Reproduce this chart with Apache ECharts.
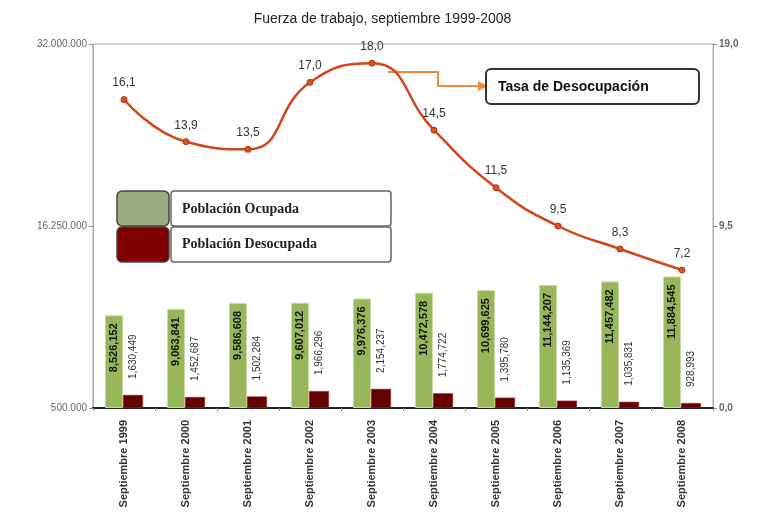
<!DOCTYPE html>
<html>
<head>
<meta charset="utf-8">
<script src="https://cdn.jsdelivr.net/npm/echarts@6/dist/echarts.min.js"></script>
<style>html,body{margin:0;padding:0;background:#fff}#c{width:765px;height:524px}</style>
</head>
<body>
<div id="c"></div>
<script>
var categories = ['Septiembre 1999','Septiembre 2000','Septiembre 2001','Septiembre 2002','Septiembre 2003','Septiembre 2004','Septiembre 2005','Septiembre 2006','Septiembre 2007','Septiembre 2008'];
var ocupada = [8526152, 9063841, 9586608, 9607012, 9976376, 10472578, 10699625, 11144207, 11457482, 11884545];
var desocupada = [1630449, 1452687, 1502284, 1966296, 2154237, 1774722, 1395780, 1135369, 1035831, 928993];
var tasa = [16.1, 13.9, 13.5, 17.0, 18.0, 14.5, 11.5, 9.5, 8.3, 7.2];
var leftTicks = [500000, 16250000, 32000000];
var rightTicks = [0, 9.5, 19];

var base = leftTicks[0];
function fmtInt(v){ return String(Math.round(v)).replace(/\B(?=(\d{3})+(?!\d))/g, ','); }
function fmtDot(v){ return String(Math.round(v)).replace(/\B(?=(\d{3})+(?!\d))/g, '.'); }
function fmtDec(v){ return v.toFixed(1).replace('.', ','); }

var chart = echarts.init(document.getElementById('c'));
chart.setOption({
  animation: false,
  title: {
    text: 'Fuerza de trabajo, septiembre 1999-2008',
    left: 'center', top: 7,
    textStyle: {fontFamily: 'Liberation Sans, Arial', fontSize: 14, fontWeight: 'normal', color: '#222'}
  },
  grid: {left: 93, right: 52, top: 44, bottom: 116, show: true, borderColor: '#aaa', borderWidth: 1},
  xAxis: {
    type: 'category', data: categories,
    axisLine: {lineStyle: {color: '#222', width: 2}},
    axisTick: {show: true, length: 3, lineStyle: {color: '#888'}},
    axisLabel: {rotate: 90, margin: 12, color: '#333', fontSize: 11, fontWeight: 'bold', fontFamily: 'Liberation Sans Narrow, Liberation Sans, Arial'}
  },
  yAxis: [{
    type: 'value', min: 0, max: leftTicks[2] - base, interval: leftTicks[1] - base,
    axisLine: {show: true, lineStyle: {color: '#aaa'}},
    axisTick: {show: true, length: 4, lineStyle: {color: '#888'}},
    splitLine: {show: false},
    axisLabel: {color: '#666', fontSize: 10, fontFamily: 'Liberation Sans, Arial', margin: 6, formatter: function(v){ return fmtDot(v + base); }}
  }, {
    type: 'value', min: rightTicks[0], max: rightTicks[2], interval: rightTicks[1],
    axisLine: {show: true, lineStyle: {color: '#aaa'}},
    axisTick: {show: true, length: 4, lineStyle: {color: '#888'}},
    splitLine: {show: false},
    axisLabel: {color: '#666', fontSize: 10, fontWeight: 'bold', fontFamily: 'Liberation Sans, Arial', margin: 6, formatter: function(v){ return fmtDec(v); }}
  }],
  series: [{
    name: 'Población Ocupada', type: 'bar', yAxisIndex: 0,
    data: ocupada.map(function(v){ return v - base; }),
    barWidth: 18, barGap: '0%',
    itemStyle: {color: '#98B75A', borderColor: '#C9DBA0', borderWidth: 1},
    label: {show: true, position: 'insideTop', rotate: 90, align: 'right', verticalAlign: 'middle', distance: 8,
      color: '#111', fontSize: 11, fontWeight: 'bold', fontFamily: 'Liberation Sans Narrow, Liberation Sans, Arial',
      formatter: function(p){ return fmtInt(ocupada[p.dataIndex]); }}
  }, {
    name: 'Población Desocupada', type: 'bar', yAxisIndex: 0,
    data: desocupada.map(function(v){ return v - base; }),
    barWidth: 20,
    itemStyle: {color: '#650000', borderColor: '#A33', borderWidth: 0.5},
    label: {show: true, position: 'top', rotate: 90, align: 'left', verticalAlign: 'middle', distance: 16,
      color: '#333', fontSize: 10, fontFamily: 'Liberation Sans Narrow, Liberation Sans, Arial',
      formatter: function(p){ return fmtInt(desocupada[p.dataIndex]); }}
  }, {
    name: 'Tasa de Desocupación', type: 'line', yAxisIndex: 1, data: tasa,
    smooth: 0.5, symbol: 'circle', symbolSize: 6,
    lineStyle: {color: '#D2461A', width: 2.5},
    itemStyle: {color: '#E0501A', borderColor: '#B03010', borderWidth: 1},
    label: {show: true, position: 'top', distance: 7, color: '#333', fontSize: 12, fontFamily: 'Liberation Sans, Arial',
      formatter: function(p){ return fmtDec(p.value); }}
  }],
  graphic: [
    {type: 'rect', shape: {x: 117, y: 191, width: 52, height: 35, r: 5}, style: {fill: '#9CAB80', stroke: '#444', lineWidth: 1.5}},
    {type: 'rect', shape: {x: 117, y: 227, width: 52, height: 35, r: 5}, style: {fill: '#800000', stroke: '#444', lineWidth: 1.5}},
    {type: 'rect', shape: {x: 171, y: 191, width: 220, height: 35, r: 3}, style: {fill: '#fff', stroke: '#666', lineWidth: 1.5}},
    {type: 'rect', shape: {x: 171, y: 227, width: 220, height: 35, r: 3}, style: {fill: '#fff', stroke: '#666', lineWidth: 1.5}},
    {type: 'text', x: 182, y: 209, style: {text: 'Población Ocupada', fill: '#222', fontSize: 14, fontFamily: 'Liberation Serif, Times New Roman', fontWeight: 'bold', verticalAlign: 'middle'}},
    {type: 'text', x: 182, y: 244, style: {text: 'Población Desocupada', fill: '#222', fontSize: 14, fontFamily: 'Liberation Serif, Times New Roman', fontWeight: 'bold', verticalAlign: 'middle'}},
    {type: 'polyline', shape: {points: [[388, 72], [438, 72], [438, 86], [478, 86]]}, style: {stroke: '#EE8A3A', lineWidth: 2, fill: null}},
    {type: 'polygon', shape: {points: [[478, 81], [488, 86], [478, 91]]}, style: {fill: '#EE8A3A'}},
    {type: 'rect', shape: {x: 486, y: 69, width: 213, height: 35, r: 5}, style: {fill: '#fff', stroke: '#333', lineWidth: 2}},
    {type: 'text', x: 498, y: 87, style: {text: 'Tasa de Desocupación', fill: '#111', fontSize: 14, fontFamily: 'Liberation Sans, Arial', fontWeight: 'bold', verticalAlign: 'middle'}}
  ]
});
</script>
</body>
</html>
